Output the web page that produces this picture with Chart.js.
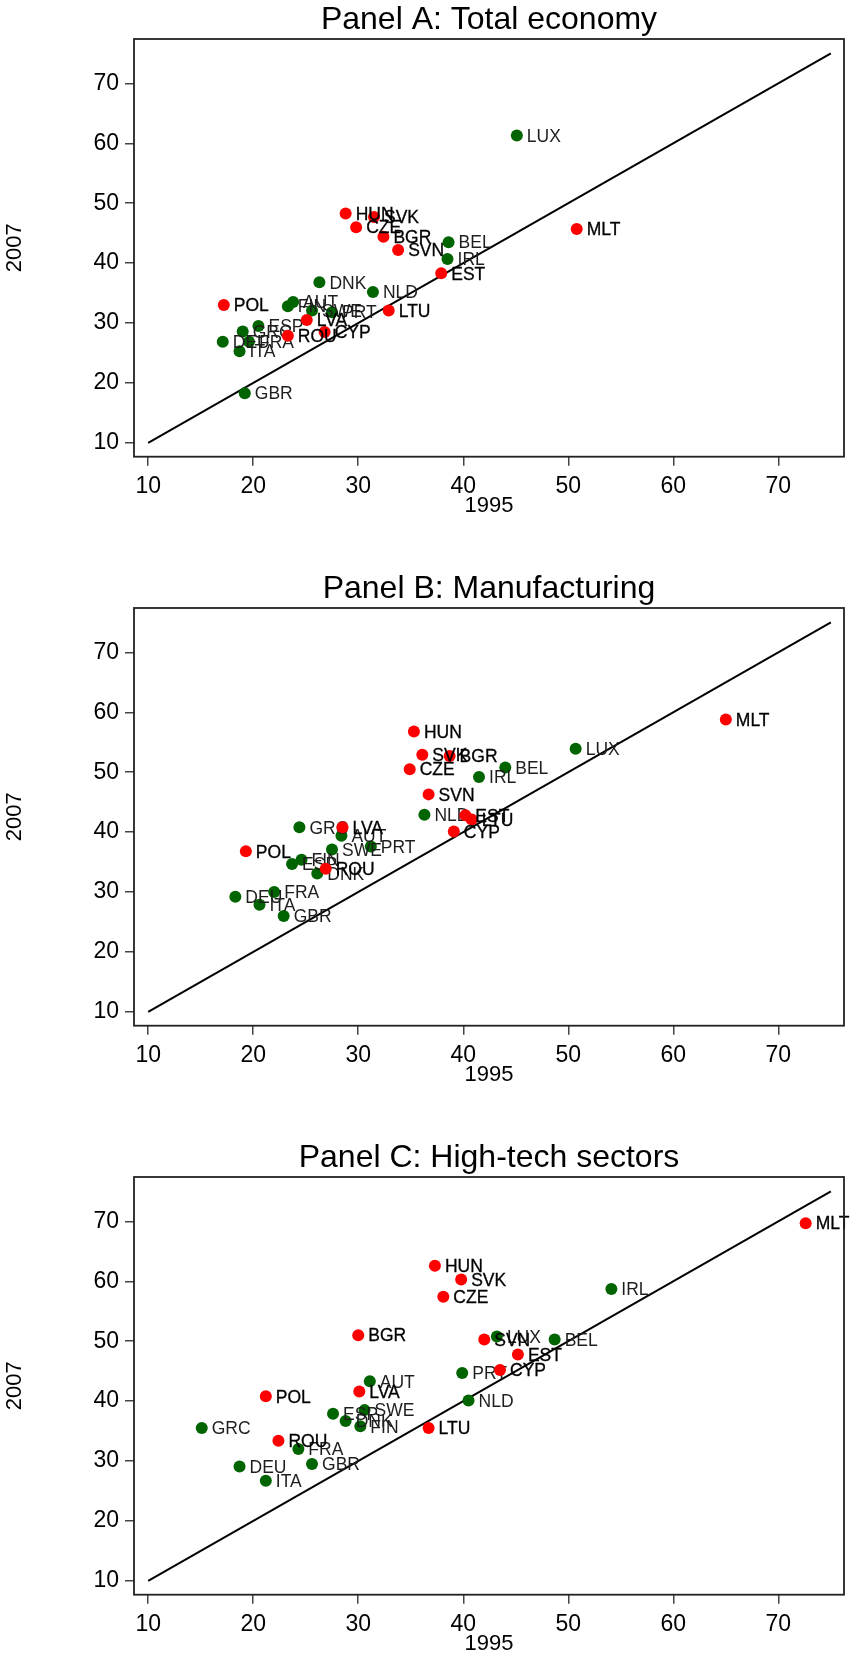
<!DOCTYPE html>
<html>
<head>
<meta charset="utf-8">
<title>Labour productivity 1995 vs 2007</title>
<script src="https://cdn.jsdelivr.net/npm/chart.js@4.4.1/dist/chart.umd.min.js"></script>
<style>
  html, body { margin: 0; padding: 0; background: #fff; overflow: hidden; }
  #page { position: relative; width: 850px; height: 1657px; overflow: hidden; }
  .panel { position: absolute; left: 0; width: 850px; height: 569px; }
  .panel canvas { display: block; }
</style>
</head>
<body>
<div id="page">
  <div class="panel" style="top:0px"><canvas id="panelA" width="850" height="569"></canvas></div>
  <div class="panel" style="top:569px"><canvas id="panelB" width="850" height="569"></canvas></div>
  <div class="panel" style="top:1138px"><canvas id="panelC" width="850" height="569"></canvas></div>
</div>
<script>
// Countries, in the same order as every value array below
const countries = ['AUT','BEL','BGR','CYP','CZE','DEU','DNK','ESP','EST','FIN','FRA','GBR','GRC','HUN',
                   'IRL','ITA','LTU','LUX','LVA','MLT','NLD','POL','PRT','ROU','SVK','SVN','SWE'];

// Member states that joined in 2004/2007 (drawn in red)
const newMemberStates = ['BGR','CYP','CZE','EST','HUN','LTU','LVA','MLT','POL','ROU','SVK','SVN'];

// Panel A: Total economy
const total1995 = [23.8, 38.6, 32.4, 26.8, 29.8, 17.1, 26.3, 20.5, 37.9, 23.3, 19.6, 19.2, 19.0, 28.8,
                   38.5, 18.7, 32.9, 45.1, 25.1, 50.8, 31.4, 17.2, 27.5, 23.3, 31.5, 33.8, 25.6];
const total2007 = [33.5, 43.5, 44.4, 28.5, 46.0, 26.9, 36.8, 29.5, 38.3, 32.8, 26.9, 18.3, 28.6, 48.3,
                   40.7, 25.3, 32.1, 61.3, 30.5, 45.7, 35.2, 33.0, 31.8, 27.9, 47.7, 42.2, 32.1];

// Panel B: Manufacturing
const manuf1995 = [28.4, 44.0, 38.7, 39.1, 34.9, 18.3, 26.1, 23.7, 40.2, 24.6, 22.0, 22.9, 24.4, 35.3,
                   41.5, 20.6, 40.8, 50.7, 28.5, 65.0, 36.3, 19.3, 31.2, 26.9, 36.1, 36.7, 27.5];
const manuf2007 = [39.4, 50.8, 52.7, 40.1, 50.5, 29.2, 33.1, 34.7, 42.8, 35.4, 30.0, 26.0, 40.8, 56.8,
                   49.2, 27.9, 42.1, 53.9, 40.8, 58.8, 42.9, 36.8, 37.6, 33.9, 52.9, 46.3, 37.1];

// Panel C: High-tech sectors
const hightech1995 = [31.1, 48.7, 30.0, 43.5, 38.1, 18.7, 28.8, 27.6, 45.2, 30.2, 24.3, 25.6, 15.1, 37.3,
                      54.1, 21.2, 36.7, 43.2, 30.1, 72.6, 40.5, 21.2, 39.9, 22.4, 39.8, 42.0, 30.6];
const hightech2007 = [43.3, 50.3, 51.0, 45.2, 57.4, 29.1, 36.7, 37.9, 47.8, 35.8, 32.0, 29.5, 35.5, 62.6,
                      58.7, 26.7, 35.5, 50.8, 41.6, 69.7, 40.1, 40.8, 44.7, 33.4, 60.3, 50.3, 38.5];

// Axis ticks, 45-degree reference line ends, texts
const tickValues = [10, 20, 30, 40, 50, 60, 70];
const diagonalEnds = [10, 75];
const panelTitles = ['Panel A: Total economy', 'Panel B: Manufacturing', 'Panel C: High-tech sectors'];
const xAxisTitle = '1995';
const yAxisTitle = '2007';

const FONT = '"Liberation Sans", Arial, Helvetica, sans-serif';

// Draws the plot frame, the panel heading and the country codes next to the markers
const panelFrame = {
  id: 'panelFrame',
  afterDatasetDraw(chart, args) {
    const ds = chart.data.datasets[args.index];
    if (!ds.codeColor) return;
    const ctx = chart.ctx;
    ctx.save();
    ctx.font = '17.5px ' + FONT;
    ctx.textAlign = 'left';
    ctx.textBaseline = 'alphabetic';
    ctx.fillStyle = ds.codeColor;
    ctx.strokeStyle = ds.codeColor;
    ctx.lineWidth = 0.3;
    args.meta.data.forEach((el, i) => {
      const code = ds.data[i].code;
      ctx.fillText(code, el.x + 10, el.y + 6.2);
      if (ds.codeStroke) ctx.strokeText(code, el.x + 10, el.y + 6.2);
    });
    ctx.restore();
  },
  afterDraw(chart, args, opts) {
    const ctx = chart.ctx;
    const a = chart.chartArea;
    ctx.save();
    ctx.strokeStyle = '#222';
    ctx.lineWidth = 1.8;
    ctx.strokeRect(a.left, a.top, a.right - a.left, a.bottom - a.top);
    ctx.fillStyle = '#000';
    ctx.font = '32px ' + FONT;
    ctx.textAlign = 'center';
    ctx.textBaseline = 'alphabetic';
    ctx.fillText(opts.text, (a.left + a.right) / 2, 29);
    ctx.restore();
  }
};

function axisOptions(isX) {
  return {
    type: 'linear',
    min: isX ? 8.65 : 7.7,
    max: isX ? 76.25 : 77.4,
    afterBuildTicks: s => { s.ticks = tickValues.map(v => ({ value: v })); },
    afterFit: s => { if (isX) { s.height = 62.3; } else { s.width = 134; } },
    grid: { display: true, drawOnChartArea: false, drawTicks: true, tickLength: 9, color: '#444', lineWidth: 1.5 },
    border: { display: false },
    ticks: { color: '#000', font: { family: FONT, size: 23 }, padding: isX ? 7 : 6, maxRotation: 0, autoSkip: false },
    title: {
      display: true,
      text: isX ? xAxisTitle : yAxisTitle,
      color: '#000',
      font: { family: FONT, size: 22 },
      padding: isX ? { top: 0, bottom: 0 } : { top: 2, bottom: 0 }
    }
  };
}

function makePanel(canvasId, title, xs, ys) {
  const points = countries.map((code, i) => ({ x: xs[i], y: ys[i], code }));
  const redPoints = points.filter(p => newMemberStates.includes(p.code));
  const greenPoints = points.filter(p => !newMemberStates.includes(p.code));
  new Chart(document.getElementById(canvasId), {
    type: 'scatter',
    data: {
      datasets: [
        { data: redPoints, backgroundColor: '#ff0000', borderWidth: 0, pointRadius: 6,
          codeColor: '#000', codeStroke: true },
        { data: greenPoints, backgroundColor: '#006400', borderWidth: 0, pointRadius: 6,
          codeColor: '#1e1e1e', codeStroke: false },
        { data: diagonalEnds.map(v => ({ x: v, y: v })), showLine: true, borderColor: '#000',
          borderWidth: 2, pointRadius: 0, fill: false }
      ]
    },
    options: {
      responsive: false,
      animation: false,
      devicePixelRatio: 1,
      layout: { padding: { top: 39, right: 1.5, bottom: 50, left: 0 } },
      plugins: { legend: { display: false }, tooltip: { enabled: false }, panelFrame: { text: title } },
      scales: { x: axisOptions(true), y: axisOptions(false) }
    },
    plugins: [panelFrame]
  });
}

makePanel('panelA', panelTitles[0], total1995, total2007);
makePanel('panelB', panelTitles[1], manuf1995, manuf2007);
makePanel('panelC', panelTitles[2], hightech1995, hightech2007);
</script>
</body>
</html>
